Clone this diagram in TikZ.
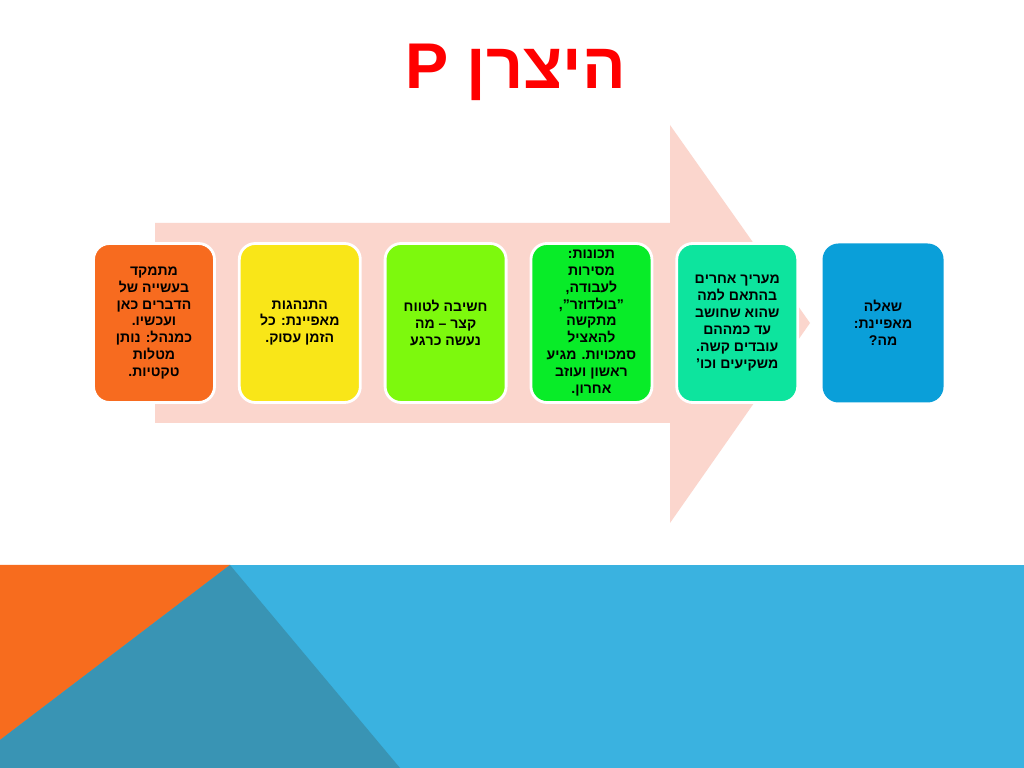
\documentclass[tikz,border=0pt]{standalone}
\usepackage{fontspec}
\setmainfont{Liberation Sans}
\TeXXeTstate=1
\usetikzlibrary{positioning}
\newcommand{\rl}[1]{\beginR #1\endR}
\definecolor{arrowpink}{RGB}{251,214,205}
\definecolor{slideblue}{RGB}{58,178,224}
\definecolor{slidedark}{RGB}{57,148,180}
\definecolor{slideorange}{RGB}{247,108,30}
\definecolor{titlered}{RGB}{255,0,0}
\definecolor{boxa}{RGB}{247,107,31}
\definecolor{boxb}{RGB}{249,230,24}
\definecolor{boxc}{RGB}{125,249,13}
\definecolor{boxd}{RGB}{8,236,40}
\definecolor{boxe}{RGB}{13,228,158}
\definecolor{boxf}{RGB}{10,159,217}
\tikzset{
  stage/.style={draw=white, line width=2pt, rounded corners=0.4cm,
    minimum width=3.025cm, minimum height=3.975cm, align=center,
    font=\bfseries\fontsize{10}{12}\selectfont, inner sep=1pt}
}
\begin{document}
\begin{tikzpicture}[node distance=0.55cm]
      \useasboundingbox (0,0) rectangle (25.6,19.2);
      \fill[white] (0,0) rectangle (25.6,19.2);
      % bottom band
      \fill[slideblue] (0,0) rectangle (25.6,5.075);
      \fill[slideorange] (0,5.075) -- (5.75,5.075) -- (0,0.7) -- cycle;
      \fill[slidedark] (5.75,5.075) -- (10,0) -- (0,0) -- (0,0.7) -- cycle;
      % arrow
      \fill[arrowpink] (3.875,13.625) -- (16.75,13.625) -- (16.75,16.075)
        -- (20.25,11.125) -- (16.75,6.125) -- (16.75,8.625) -- (3.875,8.625) -- cycle;
      % title
      \node[text=titlered, font=\bfseries\fontsize{46}{50}\selectfont] (title) at (12.9,17.4) {\rl{היצרן P}};
      % stages
      \node[stage, fill=boxa] (focus) at (3.85,11.125) {\rl{מתמקד}\\\rl{בעשייה של}\\\rl{הדברים כאן}\\\rl{ועכשיו.}\\\rl{כמנהל: נותן}\\\rl{מטלות}\\\rl{טקטיות.}};
      \node[stage, fill=boxb, right=of focus] (conduct) {\rl{התנהגות}\\\rl{מאפיינת: כל}\\\rl{הזמן עסוק.}};
      \node[stage, fill=boxc, right=of conduct] (think) {\rl{חשיבה לטווח}\\\rl{קצר – מה}\\\rl{נעשה כרגע}};
      \node[stage, fill=boxd, right=of think] (traits) {\rl{תכונות:}\\\rl{מסירות}\\\rl{לעבודה,}\\\rl{"בולדוזר",}\\\rl{מתקשה}\\\rl{להאציל}\\\rl{סמכויות. מגיע}\\\rl{ראשון ועוזב}\\\rl{אחרון.}};
      \node[stage, fill=boxe, right=of traits] (judge) {\rl{מעריך אחרים}\\\rl{בהתאם למה}\\\rl{שהוא  שחושב}\\\rl{עד כמההם}\\\rl{עובדים קשה.}\\\rl{משקיעים וכו'}};
      \node[stage, fill=boxf, draw=none, right=of judge] (question) {\rl{שאלה}\\\rl{מאפיינת:}\\\rl{מה?}};
    \end{tikzpicture}
\end{document}
